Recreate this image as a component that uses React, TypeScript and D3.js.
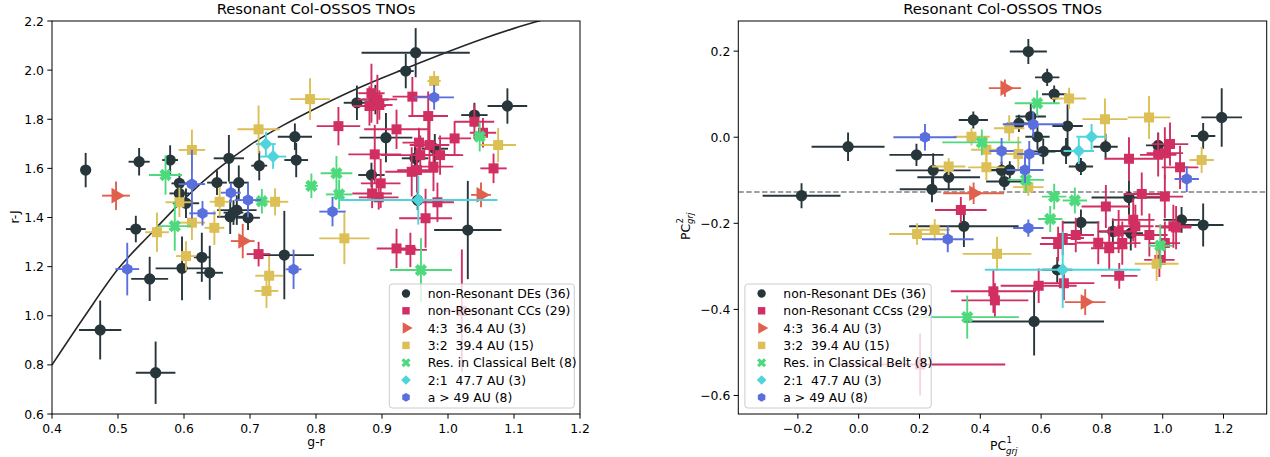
import React from 'react';
import * as d3 from 'd3';

// ---------- data: left panel [g-r, r-J, err g-r, err r-J] ----------
const leftDEs: number[][] = [
  [0.451, 1.593, 0.005, 0.07], [0.532, 1.627, 0.016, 0.056], [0.579, 1.634, 0.012, 0.06],
  [0.593, 1.539, 0.012, 0.04], [0.593, 1.498, 0.015, 0.04], [0.603, 1.458, 0.02, 0.06],
  [0.668, 1.641, 0.023, 0.095], [0.65, 1.542, 0.015, 0.05], [0.683, 1.542, 0.015, 0.07],
  [0.714, 1.611, 0.012, 0.06], [0.768, 1.729, 0.026, 0.054], [0.77, 1.634, 0.018, 0.07],
  [0.527, 1.353, 0.015, 0.054], [0.68, 1.43, 0.03, 0.06], [0.67, 1.403, 0.02, 0.07],
  [0.697, 1.399, 0.018, 0.05], [0.752, 1.247, 0.045, 0.18], [0.627, 1.238, 0.012, 0.1],
  [0.639, 1.175, 0.02, 0.11], [0.597, 1.193, 0.04, 0.13], [0.548, 1.15, 0.028, 0.09],
  [0.473, 0.942, 0.032, 0.12], [0.557, 0.768, 0.03, 0.127], [0.951, 2.071, 0.082, 0.1],
  [0.936, 1.996, 0.012, 0.07], [0.862, 1.867, 0.02, 0.07], [0.906, 1.725, 0.04, 0.1],
  [1.09, 1.854, 0.03, 0.072], [1.04, 1.817, 0.02, 0.05], [0.95, 1.641, 0.02, 0.05],
  [0.884, 1.573, 0.02, 0.05], [0.954, 1.47, 0.01, 0.04], [1.03, 1.349, 0.051, 0.2],
  [0.675, 1.42, 0.015, 0.05], [0.89, 1.88, 0.02, 0.06], [0.98, 1.68, 0.02, 0.06],
];
const leftCCs: number[][] = [
  [0.713, 1.251, 0.018, 0.05], [0.946, 1.892, 0.03, 0.08], [0.884, 1.906, 0.02, 0.12],
  [0.893, 1.881, 0.03, 0.1], [0.881, 1.854, 0.025, 0.08], [0.896, 1.858, 0.02, 0.06],
  [0.834, 1.772, 0.033, 0.078], [0.97, 1.813, 0.03, 0.1], [0.922, 1.759, 0.049, 0.08],
  [1.01, 1.722, 0.025, 0.07], [1.04, 1.79, 0.03, 0.07], [1.053, 1.745, 0.02, 0.06],
  [1.069, 1.6, 0.02, 0.06], [0.956, 1.705, 0.025, 0.06], [0.972, 1.695, 0.03, 0.1],
  [0.889, 1.657, 0.04, 0.12], [0.958, 1.654, 0.06, 0.08], [0.988, 1.654, 0.035, 0.08],
  [0.978, 1.607, 0.03, 0.1], [0.945, 1.586, 0.04, 0.1], [0.953, 1.593, 0.03, 0.09],
  [0.898, 1.539, 0.03, 0.1], [0.885, 1.498, 0.03, 0.06], [0.895, 1.482, 0.03, 0.05],
  [0.984, 1.462, 0.025, 0.08], [0.966, 1.397, 0.04, 0.12], [0.922, 1.274, 0.03, 0.08],
  [0.943, 1.268, 0.025, 0.07], [1.021, 1.02, 0.03, 0.25],
];
const left43: number[][] = [[0.497, 1.489, 0.021, 0.058], [0.689, 1.304, 0.018, 0.07], [1.05, 1.492, 0.015, 0.05]];
const left32: number[][] = [
  [0.612, 1.675, 0.02, 0.083], [0.593, 1.462, 0.021, 0.06], [0.654, 1.464, 0.015, 0.06],
  [0.738, 1.464, 0.02, 0.055], [0.713, 1.759, 0.032, 0.097], [0.791, 1.882, 0.03, 0.085],
  [0.612, 1.379, 0.02, 0.07], [0.559, 1.34, 0.018, 0.08], [0.646, 1.358, 0.015, 0.07],
  [0.603, 1.243, 0.015, 0.06], [0.729, 1.163, 0.021, 0.08], [0.725, 1.101, 0.018, 0.07],
  [0.843, 1.315, 0.038, 0.105], [0.979, 1.956, 0.01, 0.04], [1.076, 1.695, 0.027, 0.07],
];
const leftCls: number[][] = [
  [0.572, 1.573, 0.025, 0.08], [0.586, 1.365, 0.025, 0.1], [0.718, 1.466, 0.01, 0.05],
  [0.793, 1.529, 0.01, 0.05], [0.831, 1.58, 0.024, 0.07], [0.835, 1.494, 0.02, 0.06],
  [1.048, 1.729, 0.01, 0.06], [0.959, 1.186, 0.047, 0.13],
];
const left21: number[][] = [[0.724, 1.699, 0.015, 0.05], [0.735, 1.648, 0.02, 0.05], [0.955, 1.471, 0.12, 0.1]];
const leftFar: number[][] = [
  [0.612, 1.536, 0.02, 0.14], [0.671, 1.501, 0.015, 0.04], [0.697, 1.471, 0.02, 0.07],
  [0.628, 1.417, 0.02, 0.05], [0.514, 1.19, 0.018, 0.107], [0.766, 1.189, 0.012, 0.08],
  [0.825, 1.424, 0.02, 0.06], [0.979, 1.889, 0.03, 0.05],
];

// ---------- data: right panel [PC1, PC2, err PC1, err PC2] ----------
const rightDEs: number[][] = [
  [-0.188, -0.136, 0.128, 0.029], [-0.035, -0.022, 0.12, 0.033], [0.19, -0.041, 0.089, 0.026],
  [0.245, -0.077, 0.123, 0.04], [0.296, -0.093, 0.103, 0.03], [0.241, -0.121, 0.106, 0.03],
  [0.377, 0.04, 0.048, 0.02], [0.346, -0.207, 0.18, 0.048], [0.558, 0.199, 0.061, 0.029],
  [0.62, 0.139, 0.04, 0.02], [0.643, 0.1, 0.04, 0.02], [0.566, 0.048, 0.05, 0.03],
  [0.527, 0.032, 0.04, 0.02], [0.687, 0.026, 0.05, 0.05], [1.194, 0.046, 0.067, 0.068],
  [0.588, 0.001, 0.04, 0.03], [1.133, 0.003, 0.04, 0.03], [0.812, -0.022, 0.04, 0.03],
  [0.985, -0.019, 0.04, 0.03], [0.607, -0.033, 0.04, 0.03], [0.682, -0.032, 0.06, 0.03],
  [0.731, -0.068, 0.04, 0.02], [0.47, -0.077, 0.05, 0.02], [0.497, -0.076, 0.08, 0.02],
  [0.479, -0.103, 0.06, 0.02], [0.889, -0.14, 0.123, 0.04], [0.731, -0.198, 0.06, 0.03],
  [1.062, -0.192, 0.06, 0.03], [1.133, -0.204, 0.067, 0.05], [0.836, -0.219, 0.05, 0.03],
  [0.895, -0.223, 0.04, 0.04], [0.653, -0.308, 0.05, 0.03], [0.577, -0.428, 0.23, 0.079],
];
const rightCCs: number[][] = [
  [0.336, -0.169, 0.085, 0.03], [1.024, -0.016, 0.06, 0.05], [0.985, -0.041, 0.06, 0.05],
  [1.007, -0.037, 0.06, 0.06], [0.889, -0.05, 0.08, 0.05], [1.057, -0.07, 0.06, 0.05],
  [0.931, -0.132, 0.06, 0.05], [1.007, -0.138, 0.06, 0.05], [0.813, -0.161, 0.08, 0.05],
  [0.903, -0.192, 0.07, 0.05], [1.035, -0.207, 0.06, 0.05], [0.714, -0.227, 0.06, 0.04],
  [0.671, -0.234, 0.07, 0.04], [0.656, -0.248, 0.06, 0.04], [0.788, -0.245, 0.07, 0.05],
  [0.824, -0.258, 0.06, 0.05], [0.855, -0.219, 0.06, 0.05], [0.867, -0.246, 0.06, 0.05],
  [0.91, -0.207, 0.06, 0.05], [0.956, -0.227, 0.06, 0.05], [1.007, -0.246, 0.05, 0.05],
  [1.044, -0.21, 0.05, 0.05], [0.989, -0.285, 0.05, 0.04], [0.857, -0.322, 0.06, 0.03],
  [0.675, -0.339, 0.1, 0.04], [0.592, -0.345, 0.125, 0.04], [0.443, -0.358, 0.14, 0.05],
  [0.448, -0.379, 0.11, 0.04], [0.202, -0.528, 0.28, 0.072],
];
const right43: number[][] = [[0.481, 0.114, 0.053, 0.02], [0.378, -0.13, 0.1, 0.025], [0.745, -0.383, 0.067, 0.03]];
const right32: number[][] = [
  [0.296, -0.068, 0.055, 0.02], [0.371, 0.001, 0.06, 0.02], [0.42, -0.029, 0.05, 0.03],
  [0.42, -0.07, 0.06, 0.03], [0.692, 0.09, 0.056, 0.025], [0.81, 0.042, 0.074, 0.048],
  [0.955, 0.046, 0.07, 0.05], [0.495, 0.021, 0.05, 0.03], [0.525, -0.039, 0.04, 0.04],
  [1.128, -0.053, 0.04, 0.03], [0.558, -0.116, 0.05, 0.02], [0.192, -0.225, 0.092, 0.025],
  [0.25, -0.215, 0.05, 0.025], [0.455, -0.271, 0.113, 0.04], [0.98, -0.294, 0.072, 0.04],
];
const rightCls: number[][] = [
  [0.405, -0.012, 0.13, 0.03], [0.587, 0.079, 0.074, 0.03], [0.55, -0.099, 0.06, 0.03],
  [0.643, -0.138, 0.04, 0.03], [0.711, -0.147, 0.04, 0.03], [0.63, -0.19, 0.04, 0.03],
  [0.357, -0.418, 0.17, 0.05], [0.992, -0.252, 0.04, 0.05],
];
const right21: number[][] = [[0.766, 0.001, 0.05, 0.03], [0.724, -0.032, 0.05, 0.03], [0.671, -0.308, 0.256, 0.089]];
const rightFar: number[][] = [
  [0.218, 0.0, 0.104, 0.031], [0.574, 0.03, 0.1, 0.03], [0.47, -0.032, 0.04, 0.03],
  [0.561, -0.039, 0.04, 0.03], [0.547, -0.076, 0.06, 0.03], [1.079, -0.097, 0.04, 0.03],
  [0.293, -0.237, 0.085, 0.03], [0.558, -0.211, 0.05, 0.02],
];

// model curve samples (g-r, r-J)
const curveGR = [0.4, 0.45, 0.5, 0.55, 0.6, 0.65, 0.7, 0.75, 0.8, 0.85, 0.9, 0.95, 1.0, 1.05, 1.1, 1.15, 1.2];
const curveRJ = [0.8, 1.0, 1.19, 1.335, 1.475, 1.595, 1.695, 1.775, 1.845, 1.91, 1.968, 2.022, 2.075, 2.125, 2.17, 2.21, 2.25];

const pcCut = -0.127;

const leftXTicks = [0.4, 0.5, 0.6, 0.7, 0.8, 0.9, 1.0, 1.1, 1.2];
const leftYTicks = [0.6, 0.8, 1.0, 1.2, 1.4, 1.6, 1.8, 2.0, 2.2];
const rightXTicks = [-0.2, 0.0, 0.2, 0.4, 0.6, 0.8, 1.0, 1.2];
const rightYTicks = [-0.6, -0.4, -0.2, 0.0, 0.2];

const leftLabels = ['non-Resonant DEs (36)', 'non-Resonant CCs (29)', '4:3  36.4 AU (3)', '3:2  39.4 AU (15)', 'Res. in Classical Belt (8)', '2:1  47.7 AU (3)', 'a > 49 AU (8)'];
const rightLabels = ['non-Resonant DEs (36)', 'non-Resonant CCss (29)', '4:3  36.4 AU (3)', '3:2  39.4 AU (15)', 'Res. in Classical Belt (8)', '2:1  47.7 AU (3)', 'a > 49 AU (8)'];

const colors = ['#27363b', '#d12e62', '#e0604d', '#dcbf55', '#4fd97d', '#4fd4dc', '#5a6fde'];
const shapes = ['circle', 'square', 'tri', 'square', 'x', 'diamond', 'hex'];

const leftGroups = [leftDEs, leftCCs, left43, left32, leftCls, left21, leftFar];
const rightGroups = [rightDEs, rightCCs, right43, right32, rightCls, right21, rightFar];

const FONT = 'DejaVu Sans, sans-serif';

const symbolHex = {
  draw(ctx: any, size: number) {
    const r = Math.sqrt((2 * size) / (3 * Math.sqrt(3)));
    for (let k = 0; k < 6; k++) {
      const a = -Math.PI / 2 + (k * Math.PI) / 3;
      const px = r * Math.cos(a), py = r * Math.sin(a);
      if (k === 0) ctx.moveTo(px, py); else ctx.lineTo(px, py);
    }
    ctx.closePath();
  },
};

function markerPath(shape: string, scale: number): { d: string; rot: number } {
  const base: Record<string, [any, number, number]> = {
    circle: [d3.symbolCircle, 100, 0],
    square: [d3.symbolSquare, 100, 0],
    tri: [d3.symbolTriangle, 105, 90],
    x: [d3.symbolCross, 95, 45],
    diamond: [d3.symbolSquare, 85, 45],
    hex: [symbolHex, 90, 0],
  };
  const [t, s, rot] = base[shape];
  return { d: d3.symbol().type(t).size(s * scale)() as string, rot };
}

type PanelProps = {
  id: string;
  x0: number; x1: number; y0: number; y1: number;
  xDomain: [number, number]; yDomain: [number, number];
  xTicks: number[]; yTicks: number[];
  groups: number[][][];
  labels: string[];
  legendX: number; legendW: number;
  title: string;
  extra: (xs: any, ys: any) => React.ReactNode;
  xLabel: React.ReactNode; yLabel: React.ReactNode;
};

function Panel(p: PanelProps) {
  const xs = d3.scaleLinear().domain(p.xDomain).range([p.x0, p.x1]);
  const ys = d3.scaleLinear().domain(p.yDomain).range([p.y1, p.y0]);
  const fmt = d3.format('.1f');
  const legendY = 284, legendH = 124, rowH = 17.3;
  return (
    <g>
      <defs>
        <clipPath id={p.id}>
          <rect x={p.x0} y={p.y0} width={p.x1 - p.x0} height={p.y1 - p.y0} />
        </clipPath>
      </defs>
      <g clipPath={`url(#${p.id})`}>
        {p.extra(xs, ys)}
        {p.groups.map((g, gi) => (
          <g key={gi}>
            {g.map((r, i) => (
              <g key={i} stroke={colors[gi]} strokeWidth={1.9} fill="none">
                <line x1={xs(r[0] - r[2])} x2={xs(r[0] + r[2])} y1={ys(r[1])} y2={ys(r[1])} />
                <line x1={xs(r[0])} x2={xs(r[0])} y1={ys(r[1] - r[3])} y2={ys(r[1] + r[3])} />
              </g>
            ))}
            {g.map((r, i) => {
              const m = markerPath(shapes[gi], 1);
              return (
                <path key={'m' + i} d={m.d} fill={colors[gi]}
                  transform={`translate(${xs(r[0])},${ys(r[1])}) rotate(${m.rot})`} />
              );
            })}
          </g>
        ))}
      </g>
      {/* spines */}
      <rect x={p.x0} y={p.y0} width={p.x1 - p.x0} height={p.y1 - p.y0} fill="none" stroke="#000" strokeWidth={1} />
      {/* ticks */}
      {p.xTicks.map((t) => (
        <g key={'xt' + t}>
          <line x1={xs(t)} x2={xs(t)} y1={p.y1} y2={p.y1 + 4.7} stroke="#000" strokeWidth={1} />
          <text x={xs(t)} y={p.y1 + 19} textAnchor="middle" fontFamily={FONT} fontSize={12.4} fill="#000">{fmt(t)}</text>
        </g>
      ))}
      {p.yTicks.map((t) => (
        <g key={'yt' + t}>
          <line x1={p.x0 - 4.7} x2={p.x0} y1={ys(t)} y2={ys(t)} stroke="#000" strokeWidth={1} />
          <text x={p.x0 - 8} y={ys(t) + 4.5} textAnchor="end" fontFamily={FONT} fontSize={12.4} fill="#000">{fmt(t)}</text>
        </g>
      ))}
      <text x={(p.x0 + p.x1) / 2} y={14} textAnchor="middle" fontFamily={FONT} fontSize={14.8} fill="#000">{p.title}</text>
      {p.xLabel}
      {p.yLabel}
      {/* legend */}
      <rect x={p.legendX} y={legendY} width={p.legendW} height={legendH} rx={3} fill="#fff" fillOpacity={0.8} stroke="#cccccc" strokeWidth={1} />
      {p.labels.map((lab, i) => {
        const cy = legendY + 9.5 + i * rowH;
        const m = markerPath(shapes[i], 0.55);
        return (
          <g key={'lg' + i}>
            <path d={m.d} fill={colors[i]} transform={`translate(${p.legendX + 16.7},${cy}) rotate(${m.rot})`} />
            <text x={p.legendX + 38.4} y={cy + 4.5} fontFamily={FONT} fontSize={12.4} fill="#000" style={{ whiteSpace: 'pre' }}>{lab}</text>
          </g>
        );
      })}
    </g>
  );
}

export default function App() {
  const line = d3.line<number>().curve(d3.curveMonotoneX);
  return (
    <svg width={1270} height={457} style={{ position: 'absolute', left: 0, top: 0, background: '#fff' }}>
      <rect x={0} y={0} width={1270} height={457} fill="#fff" />
      <Panel
        id="clipL" x0={52} x1={580} y0={21} y1={414}
        xDomain={[0.4, 1.2]} yDomain={[0.6, 2.2]}
        xTicks={leftXTicks} yTicks={leftYTicks}
        groups={leftGroups} labels={leftLabels}
        legendX={389.3} legendW={185}
        title="Resonant Col-OSSOS TNOs"
        extra={(xs, ys) => (
          <path
            d={line.x((_, i) => xs(curveGR[i])).y((v) => ys(v))(curveRJ) as string}
            fill="none" stroke="#262626" strokeWidth={1.6} />
        )}
        xLabel={<text x={316} y={446} textAnchor="middle" fontFamily={FONT} fontSize={12.4}>g-r</text>}
        yLabel={<text transform="translate(19,217) rotate(-90)" textAnchor="middle" fontFamily={FONT} fontSize={12.4}>r-J</text>}
      />
      <Panel
        id="clipR" x0={738.3} x1={1266.7} y0={21} y1={414}
        xDomain={[-0.396, 1.342]} yDomain={[-0.643, 0.27]}
        xTicks={rightXTicks} yTicks={rightYTicks}
        groups={rightGroups} labels={rightLabels}
        legendX={744.9} legendW={186.3}
        title="Resonant Col-OSSOS TNOs"
        extra={(xs, ys) => (
          <line x1={xs(-0.396)} x2={xs(1.342)} y1={ys(pcCut)} y2={ys(pcCut)}
            stroke="#808080" strokeWidth={1.5} strokeDasharray="5.5,2.4" />
        )}
        xLabel={
          <g fontFamily={FONT} fill="#000">
            <text x={990} y={450} fontSize={12.4}>PC</text>
            <text x={1006.5} y={443} fontSize={8.7}>1</text>
            <text x={1006} y={453.5} fontSize={8.7} fontStyle="italic">grj</text>
          </g>
        }
        yLabel={
          <g fontFamily={FONT} fill="#000" transform="translate(689.5,240) rotate(-90)">
            <text x={0} y={0} fontSize={12.4}>PC</text>
            <text x={16.5} y={-7} fontSize={8.7}>2</text>
            <text x={16} y={3.5} fontSize={8.7} fontStyle="italic">grj</text>
          </g>
        }
      />
    </svg>
  );
}
